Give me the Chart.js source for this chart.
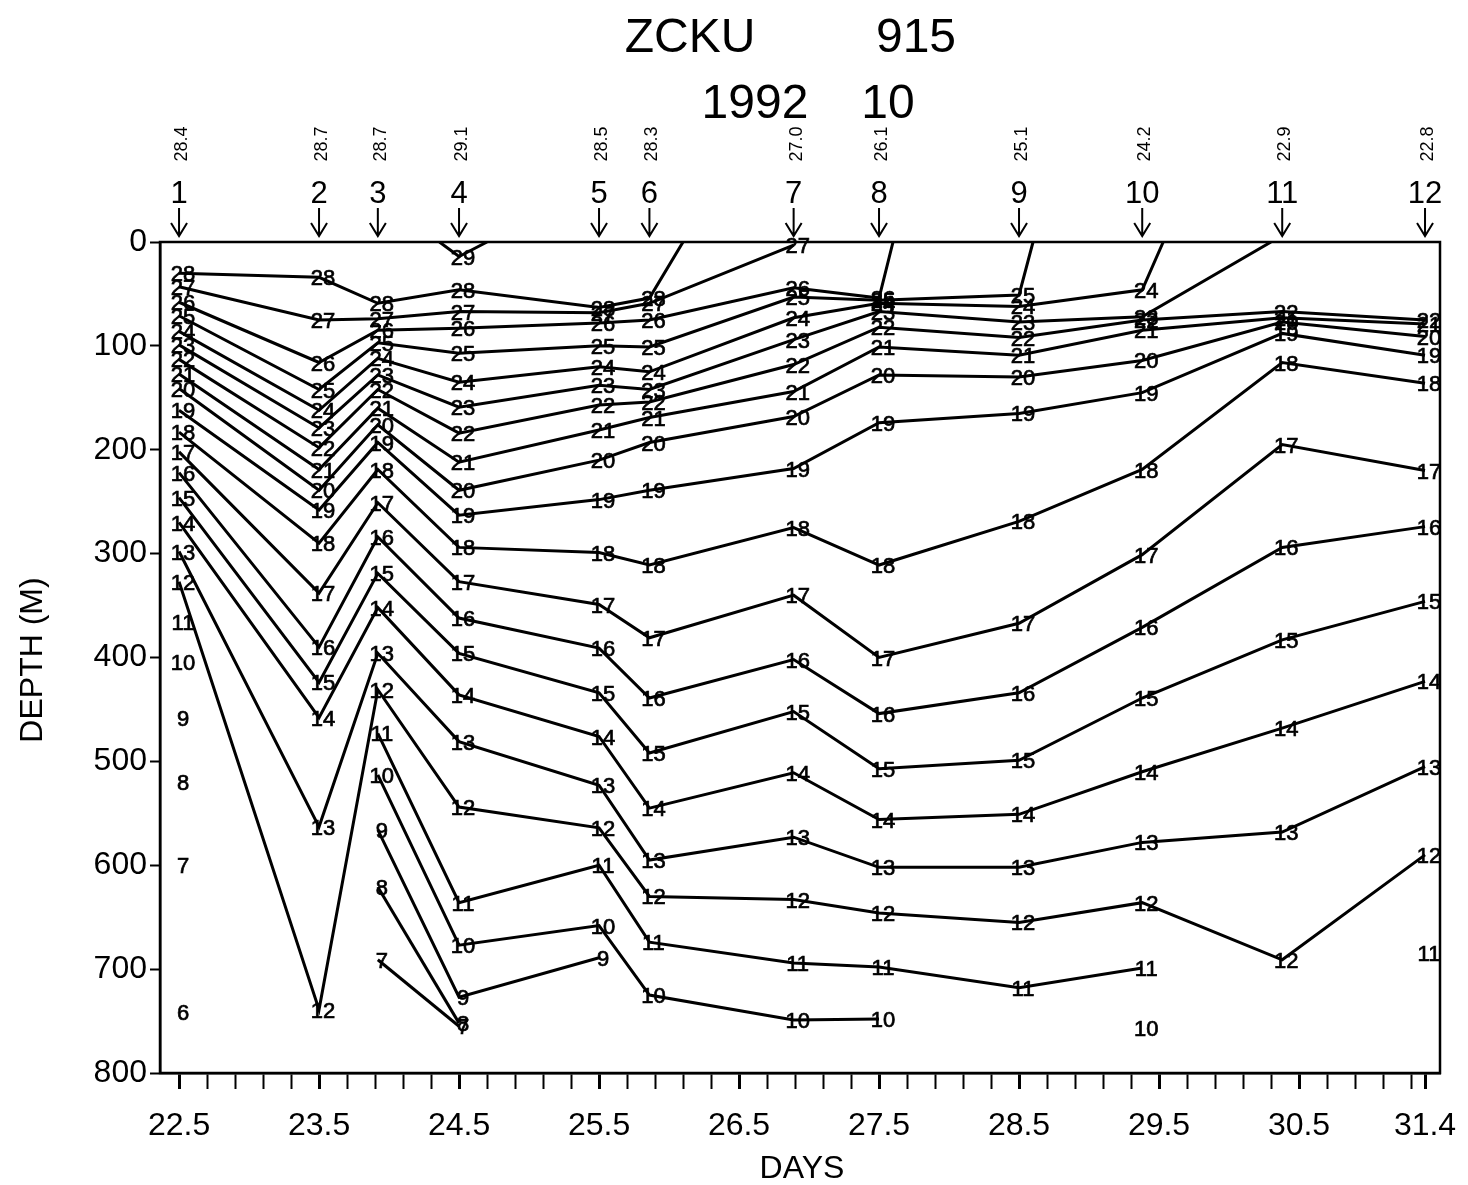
<!DOCTYPE html>
<html><head><meta charset="utf-8">
<script src="https://cdn.jsdelivr.net/npm/chart.js@4.4.0/dist/chart.umd.min.js"></script>
<style>html,body{margin:0;padding:0;background:#fff;}canvas{display:block;}</style>
</head><body>
<canvas id="c" width="1468" height="1185"></canvas>
<script>
// ---- header texts ----
const titleLine1 = ['ZCKU', '915'];
const titleLine2 = ['1992', '10'];
const stationNumbers = ['1','2','3','4','5','6','7','8','9','10','11','12'];
const surfaceTemps = ['28.4','28.7','28.7','29.1','28.5','28.3','27.0','26.1','25.1','24.2','22.9','22.8'];
// ---- station positions (days) ----
const stationDays = [22.5, 23.5, 23.92, 24.5, 25.5, 25.86, 26.89, 27.5, 28.5, 29.38, 30.38, 31.4];
// ---- isotherm depths (m) at each station, null = absent ----
const t29 = [null, null, null, 14, null, null, null, null, null, null, null, null];
const t28 = [30, 34, 59, 46, 63, 54, null, null, null, null, null, null];
const t27 = [43, 75, 74, 67, 68, 59, 3, null, null, null, null, null];
const t26 = [58, 116, 85, 83, 78, 75, 44, 54, null, null, null, null];
const t25 = [71, 142, 97, 107, 100, 101, 53, 56, 51, null, null, null];
const t24 = [86, 162, 112, 135, 120, 125, 73, 59, 62, 46, null, null];
const t23 = [99, 179, 128, 159, 138, 142, 94, 67, 77, 72, null, null];
const t22 = [113, 198, 142, 184, 157, 154, 118, 82, 92, 75, 67, 75];
const t21 = [127, 219, 160, 212, 181, 169, 144, 101, 109, 85, 73, 79];
const t20 = [141, 239, 176, 239, 210, 193, 168, 128, 130, 114, 77, 91];
const t19 = [162, 258, 193, 263, 248, 239, 218, 174, 165, 145, 88, 109];
const t18 = [183, 290, 219, 294, 299, 311, 275, 311, 269, 219, 116, 136];
const t17 = [202, 338, 251, 327, 349, 381, 340, 400, 367, 301, 195, 220];
const t16 = [222, 390, 284, 362, 391, 439, 402, 454, 434, 371, 294, 274];
const t15 = [246, 424, 319, 396, 434, 492, 452, 507, 499, 439, 383, 346];
const t14 = [270, 458, 352, 436, 476, 545, 511, 556, 551, 510, 468, 423];
const t13 = [298, 563, 396, 481, 523, 595, 573, 602, 602, 578, 568, 505];
const t12 = [327, 739, 431, 544, 564, 630, 633, 646, 655, 636, 691, 590];
const t11 = [366, null, 473, 636, 600, 674, 694, 698, 718, 699, null, 684];
const t10 = [404, null, 513, 677, 658, 725, 749, 748, null, 757, null, null];
const t9  = [458, null, 566, 727, 689, null, null, null, null, null, null, null];
const t8  = [520, null, 621, 752, null, null, null, null, null, null, null, null];
const t7  = [600, null, 691, 755, null, null, null, null, null, null, null, null];
const t6  = [741, null, null, null, null, null, null, null, null, null, null, null];
// ---- where isotherms reach the sea surface ----
const outcropTemps = [29, 29, 28, 26, 25, 24, 23];
const outcropDays  = [24.36, 24.70, 26.10, 27.60, 28.60, 29.53, 30.30];
// ---- axis ticks ----
const xTickLabels = ['22.5','23.5','24.5','25.5','26.5','27.5','28.5','29.5','30.5','31.4'];
const yTickLabels = ['0','100','200','300','400','500','600','700','800'];

const isotherms = [[29,t29],[28,t28],[27,t27],[26,t26],[25,t25],[24,t24],[23,t23],[22,t22],[21,t21],[20,t20],
  [19,t19],[18,t18],[17,t17],[16,t16],[15,t15],[14,t14],[13,t13],[12,t12],[11,t11],[10,t10],[9,t9],[8,t8],[7,t7],[6,t6]];

const datasets = isotherms.map(([T, d]) => {
  const pts = stationDays.map((x, i) => ({x: x, y: d[i], lab: d[i] !== null}));
  outcropTemps.forEach((t, k) => { if (t === T) pts.push({x: outcropDays[k], y: 0, lab: false}); });
  pts.sort((a, b) => a.x - b.x);
  return {
    label: String(T),
    data: pts.map(p => ({x: p.x, y: p.y})),
    labelFlags: pts.map(p => p.lab),
    borderColor: '#000', backgroundColor: '#000', borderWidth: 3,
    pointRadius: 0, pointHoverRadius: 0, showLine: true, spanGaps: false, fill: false, tension: 0
  };
});

const xTickValues = [];
for (let k = 0; k <= 44; k++) xTickValues.push(Math.round((22.5 + 0.2 * k) * 10) / 10);
xTickValues.push(31.4);
const isMajor = v => xTickLabels.indexOf(v.toFixed(1)) >= 0;

const FONT = '"Liberation Sans", Arial, Helvetica, sans-serif';

const deco = {
  id: 'deco',
  afterDraw(chart) {
    const ctx = chart.ctx, xs = chart.scales.x, a = chart.chartArea;
    ctx.save();
    // frame
    ctx.lineWidth = 2.5; ctx.strokeStyle = '#000';
    ctx.strokeRect(a.left, a.top, a.right - a.left, a.bottom - a.top);
    // isotherm labels
    ctx.fillStyle = '#000'; ctx.textAlign = 'center'; ctx.textBaseline = 'middle';
    ctx.font = '22px ' + FONT;
    ctx.lineWidth = 0.7;
    chart.data.datasets.forEach((ds, di) => {
      const meta = chart.getDatasetMeta(di);
      meta.data.forEach((el, j) => {
        if (!ds.labelFlags[j] || el.skip || isNaN(el.y)) return;
        ctx.fillText(ds.label, el.x + 4, el.y + 2);
        ctx.strokeText(ds.label, el.x + 4, el.y + 2);
      });
    });
    // title
    ctx.textBaseline = 'alphabetic';
    ctx.font = '48px ' + FONT;
    ctx.fillText(titleLine1[0], 690, 52);
    ctx.fillText(titleLine1[1], 916, 52);
    ctx.fillText(titleLine2[0], 755, 118);
    ctx.fillText(titleLine2[1], 888, 118);
    // stations
    stationDays.forEach((d, i) => {
      const px = xs.getPixelForValue(d);
      ctx.font = '31px ' + FONT;
      ctx.textAlign = 'center'; ctx.textBaseline = 'alphabetic';
      ctx.fillText(stationNumbers[i], px, 203);
      ctx.save();
      ctx.translate(px + 3, 144);
      ctx.rotate(-Math.PI / 2);
      ctx.font = '18px ' + FONT;
      ctx.textBaseline = 'middle';
      ctx.fillText(surfaceTemps[i], 0, 0);
      ctx.restore();
      ctx.lineWidth = 2;
      ctx.beginPath();
      ctx.moveTo(px, 208); ctx.lineTo(px, 236);
      ctx.moveTo(px - 8, 223); ctx.lineTo(px, 236); ctx.lineTo(px + 8, 223);
      ctx.stroke();
    });
    // axis titles
    ctx.font = '32px ' + FONT;
    ctx.textAlign = 'center'; ctx.textBaseline = 'alphabetic';
    ctx.fillText('DAYS', 802, 1178);
    ctx.save();
    ctx.translate(33, 660);
    ctx.rotate(-Math.PI / 2);
    ctx.textBaseline = 'middle';
    ctx.fillText('DEPTH (M)', 0, 0);
    ctx.restore();
    ctx.restore();
  }
};

new Chart(document.getElementById('c'), {
  type: 'scatter',
  data: { datasets: datasets },
  options: {
    responsive: false, animation: false, devicePixelRatio: 1,
    layout: { autoPadding: false, padding: { top: 242, right: 28, left: 0, bottom: 0 } },
    plugins: { legend: { display: false }, tooltip: { enabled: false }, title: { display: false } },
    scales: {
      x: {
        type: 'linear', min: 22.364, max: 31.507, position: 'bottom',
        afterBuildTicks: s => { s.ticks = xTickValues.map(v => ({ value: v })); },
        afterFit: s => { s.height = 112; s.paddingLeft = 0; s.paddingRight = 0; },
        ticks: {
          autoSkip: false, maxRotation: 0, minRotation: 0, padding: 18, color: '#000',
          font: { size: 32, family: FONT },
          callback: v => isMajor(v) ? v.toFixed(1) : ''
        },
        grid: { drawOnChartArea: false, drawTicks: true, tickLength: 16, tickColor: '#000',
          tickWidth: c => (c.tick && isMajor(c.tick.value)) ? 3 : 2 },
        border: { display: true, color: '#000', width: 2.5 }
      },
      y: {
        type: 'linear', reverse: true, min: 0, max: 800,
        afterBuildTicks: s => { s.ticks = yTickLabels.map(v => ({ value: Number(v) })); },
        afterFit: s => { s.width = 160; s.paddingTop = 0; s.paddingBottom = 0; },
        ticks: { color: '#000', padding: 3, font: { size: 32, family: FONT }, callback: v => String(v) },
        grid: { drawOnChartArea: false, drawTicks: true, tickLength: 10, tickColor: '#000', tickWidth: 2 },
        border: { display: true, color: '#000', width: 2.5 }
      }
    }
  },
  plugins: [deco]
});
</script>
</body></html>
